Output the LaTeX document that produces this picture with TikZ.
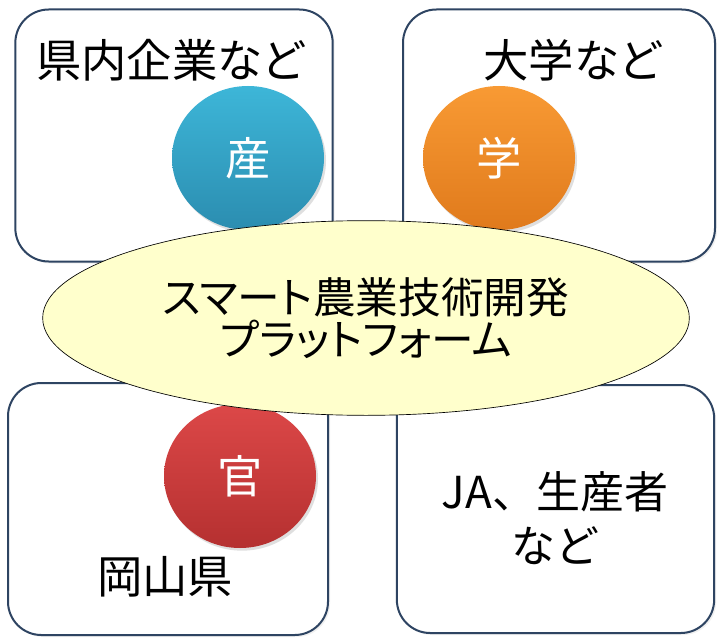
\documentclass[tikz,border=0pt]{standalone}
\usepackage{fontspec}
\newfontfamily\jpfont[RawFeature=+palt]{Noto Sans CJK JP}
\newfontfamily\jpwide{Noto Sans CJK JP}
\usetikzlibrary{shapes.geometric,positioning,shadows}

\definecolor{boxline}{HTML}{2E4462}
\definecolor{platformfill}{HTML}{FFFFCC}
\definecolor{sanTop}{HTML}{3DB6D8}
\definecolor{sanBottom}{HTML}{2B8DB0}
\definecolor{gakuTop}{HTML}{F89A34}
\definecolor{gakuBottom}{HTML}{E07A1C}
\definecolor{kanTop}{HTML}{DC4848}
\definecolor{kanBottom}{HTML}{B53030}

\tikzset{
  group/.style={draw=boxline,line width=1.5pt,rounded corners=25pt,fill=white,
    minimum width=238pt,minimum height=189pt,
    drop shadow={opacity=0.12,shadow xshift=1.5pt,shadow yshift=-1.5pt}},
  grouplabel/.style={inner sep=0pt,align=center,font=\jpfont\fontsize{34}{40.5}\selectfont},
  role/.style={ellipse,minimum width=114pt,minimum height=108pt,inner sep=0pt,
    text=white,font=\jpfont\fontsize{34}{36}\selectfont,
    drop shadow={opacity=0.25,shadow xshift=1.5pt,shadow yshift=-2pt}},
  platform/.style={ellipse,draw=black,line width=0.5pt,fill=platformfill,
    minimum width=485pt,minimum height=146pt,inner sep=0pt,align=center,
    font=\jpfont\fontsize{32}{32}\selectfont}
}

\begin{document}
\begin{tikzpicture}[x=0.75pt,y=-0.75pt]
\useasboundingbox (0,0) rectangle (717,638);

% the four groups
\node[group] (sangyo) at (174,135.5) {};
\node[group,minimum width=234pt] (daigaku) at (559,135.5) {};
\node[group,minimum width=240pt] (okayama) at (168,509) {};
\node[group,minimum height=186pt] (seisan) at (555.5,509) {};

\node[grouplabel] (sangyolabel) at (170,60) {県内企業など};
\node[grouplabel] (daigakulabel) at (572,60) {大学など};
\node[grouplabel] (okayamalabel) at (165,577) {岡山県};
\node[grouplabel,font=\jpwide\fontsize{33}{40.5}\selectfont] (seisanlabel) at (555,518) {JA、生産者\\など};

% roles
\node[role,top color=sanTop,bottom color=sanBottom] (san) at (248,158) {産};
\node[role,top color=gakuTop,bottom color=gakuBottom] (gaku) at (499,158) {学};
\node[role,top color=kanTop,bottom color=kanBottom] (kan) at (240,476) {官};

% platform in the middle
\node[platform] (platform) at (366,318) {スマート農業技術開発\\プラットフォーム};

\end{tikzpicture}
\end{document}
